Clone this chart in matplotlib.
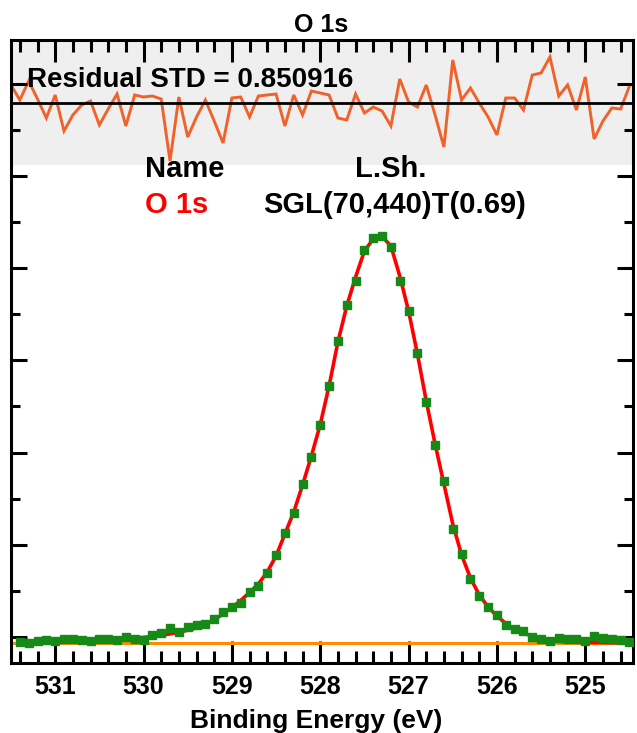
import matplotlib.pyplot as plt
from matplotlib.ticker import MultipleLocator

plt.rcParams['font.family'] = ['Liberation Sans', 'DejaVu Sans']
plt.rcParams['font.weight'] = 'bold'

W, H = 637, 733

# binding energy of each channel (eV)
energy = [531.4, 531.3, 531.2, 531.1, 531.0, 530.9, 530.8, 530.7, 530.6, 530.5,
          530.4, 530.3, 530.2, 530.1, 530.0, 529.9, 529.8, 529.7, 529.6, 529.5,
          529.4, 529.3, 529.2, 529.1, 529.0, 528.9, 528.8, 528.7, 528.6, 528.5,
          528.4, 528.3, 528.2, 528.1, 528.0, 527.9, 527.8, 527.7, 527.6, 527.5,
          527.4, 527.3, 527.2, 527.1, 527.0, 526.9, 526.8, 526.7, 526.6, 526.5,
          526.4, 526.3, 526.2, 526.1, 526.0, 525.9, 525.8, 525.7, 525.6, 525.5,
          525.4, 525.3, 525.2, 525.1, 525.0, 524.9, 524.8, 524.7, 524.6, 524.5]

# measured counts
counts = [3898, 3863, 3907, 3935, 3907, 3963, 3950, 3935, 3920, 3963,
          3950, 3935, 4007, 3963, 3935, 4037, 4093, 4195, 4108, 4223,
          4267, 4278, 4390, 4542, 4644, 4744, 4972, 5100, 5395, 5772,
          6262, 6683, 7319, 7911, 8605, 9451, 10414, 11201, 11728, 12394,
          12654, 12698, 12466, 11728, 11077, 10153, 9091, 8164, 7390, 6343,
          5800, 5258, 4900, 4651, 4477, 4271, 4174, 4124, 4007, 3950,
          3913, 3978, 3957, 3963, 3920, 4022, 3972, 3950, 3935, 3898]

# fitted envelope
fit = [3902, 3905, 3907, 3909, 3913, 3918, 3922, 3926, 3931, 3937,
       3944, 3952, 3963, 3976, 3991, 4011, 4037, 4067, 4104, 4147,
       4197, 4265, 4373, 4499, 4636, 4792, 4965, 5150, 5410, 5757,
       6234, 6711, 7297, 7926, 8609, 9444, 10399, 11179, 11808, 12372,
       12633, 12687, 12481, 11830, 11071, 10138, 9119, 8186, 7319, 6451,
       5779, 5280, 4911, 4651, 4455, 4293, 4174, 4087, 4015, 3963,
       3928, 3907, 3892, 3885, 3881, 3879, 3879, 3876, 3876, 3876]

# background
bg_energy = [531.6, 524.4]
bg_counts = [3876, 3876]

# residual (scaled); starts one channel earlier than the spectrum
resid_energy = [531.5] + energy
residual = [0.9, 0.15, 1.1, 0.2, -0.75, 0.4, -1.4, -0.6, -0.1, 0.1,
            -1.1, -0.3, 0.45, -1.15, 0.4, 0.3, 0.35, 0.2, -2.9, 0.3,
            -1.7, -0.7, 0.15, -0.9, -2.0, 0.25, 0.3, -0.7, 0.35, 0.4,
            0.45, -1.15, 0.4, -0.6, 0.6, 0.5, 0.4, -0.75, -0.85, 0.45,
            -0.5, -0.2, -0.4, -1.15, 1.2, 0.05, -0.2, 0.9, -0.6, -2.2,
            2.15, 0.15, 0.75, 0.0, -0.7, -1.6, 0.25, 0.25, -0.35, 1.4,
            1.5, 2.3, 0.35, 0.9, -0.35, 1.3, -1.8, -0.9, -0.25, -0.3,
            0.85]

x_ticks = [531, 530, 529, 528, 527, 526, 525]

fig = plt.figure(figsize=(W / 100, H / 100), dpi=100)
fig.patch.set_facecolor('white')

ax_l, ax_r, ax_t, ax_b = 11, 633, 40, 663
res_b = 165


def box(top, bottom):
    return [ax_l / W, 1 - bottom / H, (ax_r - ax_l) / W, (bottom - top) / H]


# residual strip at the top
rax = fig.add_axes(box(ax_t, res_b), zorder=1)
rax.set_facecolor('#efefef')
rax.plot(resid_energy, residual, color='#f0622a', lw=2.1, zorder=2,
         solid_joinstyle='miter')
rax.axhline(0, color='black', lw=2.0, zorder=3)
rax.set_xlim(531.50, 524.46)
rax.set_ylim(-3.1, 3.15)
for s in rax.spines.values():
    s.set_visible(False)
rax.set_xticks([])
rax.set_yticks([])

# main spectrum
ax = fig.add_axes(box(ax_t, ax_b), zorder=2)
ax.patch.set_alpha(0)
ax.plot(bg_energy, bg_counts, color='#ff8c00', lw=2.2, zorder=2)
ax.plot(energy, fit, color='#ff0000', lw=2.6, zorder=3)
ax.plot(energy, counts, ls='none', marker='s', ms=5.4, color='#168a16',
        mec='#168a16', zorder=4)
ax.set_xlim(531.50, 524.46)
ax.set_ylim(3436, 16949)

ax.set_xticks(x_ticks)
ax.xaxis.set_minor_locator(MultipleLocator(0.2))
ax.yaxis.set_major_locator(MultipleLocator(2000))
ax.yaxis.set_minor_locator(MultipleLocator(1000))
ax.tick_params(axis='x', which='major', direction='in', length=15.8, width=2.2,
               top=True, bottom=True, labelsize=18, pad=9)
ax.tick_params(axis='x', which='minor', direction='in', length=8.6, width=2.2,
               top=True, bottom=True)
ax.tick_params(axis='y', which='major', direction='in', length=11.5, width=2.2,
               left=True, right=True, labelleft=False)
ax.tick_params(axis='y', which='minor', direction='in', length=6.5, width=2.2,
               left=True, right=True)
for s in ax.spines.values():
    s.set_linewidth(2.2)


def ftext(x, y, s, **kw):
    fig.text(x / W, 1 - y / H, s, va='baseline', fontweight='bold', **kw)


ftext(321, 32, 'O 1s', ha='center', fontsize=18)
ftext(27, 87, 'Residual STD = 0.850916', ha='left', fontsize=20, zorder=5)
ftext(145, 177, 'Name', ha='left', fontsize=21)
ftext(391, 177, 'L.Sh.', ha='center', fontsize=21)
ftext(145, 213, 'O 1s', ha='left', fontsize=21, color='#ff0000')
ftext(263, 213, 'SGL(70,440)T(0.69)', ha='left', fontsize=21)
ftext(316, 728, 'Binding Energy (eV)', ha='center', fontsize=19)

fig.savefig('out.png', dpi=100)
